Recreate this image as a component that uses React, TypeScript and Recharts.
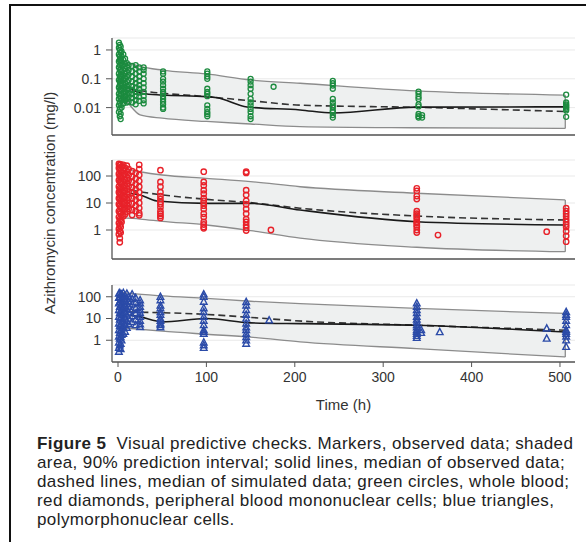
import {
  Area,
  CartesianGrid,
  ComposedChart,
  Label,
  Line,
  ReferenceLine,
  Scatter,
  XAxis,
  YAxis,
} from "recharts";

// ---- whole blood (green) ----
const wbBandT = [4, 10, 25, 50, 100, 150, 206, 338, 506];
const wbUpper = [0.45, 0.38, 0.27, 0.2, 0.147, 0.091, 0.07, 0.038, 0.027];
const wbLower = [0.025, 0.016, 0.0056, 0.0043, 0.0033, 0.0027, 0.0022, 0.002, 0.0019];
const wbObsT = [12, 28, 50, 100, 112, 146, 206, 243, 338, 506];
const wbObsMed = [0.048, 0.031, 0.0274, 0.024, 0.022, 0.0105, 0.0083, 0.0065, 0.0104, 0.0106];
const wbSimT = [12, 33, 100, 150, 206, 338, 506];
const wbSimMed = [0.045, 0.036, 0.024, 0.0173, 0.0122, 0.0102, 0.0073];
const wbPoints: [number, number[]][] = [
  [1, [1.8, 1.2, 0.7, 0.4, 0.25, 0.15, 0.09, 0.05, 0.03, 0.02, 0.012, 0.007]],
  [2, [1.5, 1.0, 0.6, 0.45, 0.3, 0.2, 0.12, 0.08, 0.06, 0.04, 0.025, 0.015, 0.009, 0.005]],
  [3, [1.3, 0.8, 0.5, 0.35, 0.22, 0.14, 0.1, 0.07, 0.045, 0.03, 0.02, 0.012, 0.006, 0.004]],
  [4, [0.9, 0.6, 0.4, 0.28, 0.18, 0.12, 0.085, 0.06, 0.04, 0.028, 0.018, 0.01]],
  [6, [0.7, 0.45, 0.3, 0.2, 0.13, 0.09, 0.065, 0.045, 0.032, 0.022, 0.014]],
  [8, [0.5, 0.32, 0.22, 0.15, 0.1, 0.07, 0.05, 0.035, 0.025, 0.018]],
  [10, [0.35, 0.25, 0.17, 0.12, 0.08, 0.055, 0.04, 0.028, 0.02, 0.015]],
  [12, [0.3, 0.2, 0.14, 0.09, 0.06, 0.045, 0.032, 0.024, 0.016]],
  [16, [0.28, 0.18, 0.12, 0.08, 0.055, 0.04, 0.03, 0.022, 0.015]],
  [20, [0.3, 0.22, 0.15, 0.1, 0.07, 0.05, 0.035, 0.025, 0.018, 0.013]],
  [24, [0.25, 0.18, 0.12, 0.085, 0.06, 0.045, 0.033, 0.024, 0.017]],
  [29, [0.25, 0.2, 0.15, 0.1, 0.07, 0.05, 0.035, 0.025, 0.018, 0.014]],
  [51, [0.18, 0.15, 0.1, 0.08, 0.06, 0.045, 0.035, 0.03, 0.025, 0.02, 0.016, 0.013, 0.01, 0.009]],
  [101, [0.18, 0.15, 0.12, 0.1, 0.045, 0.035, 0.03, 0.025, 0.012, 0.009, 0.007, 0.006, 0.005]],
  [150, [0.1, 0.08, 0.06, 0.045, 0.03, 0.02, 0.015, 0.012, 0.009, 0.007, 0.005, 0.004]],
  [176, [0.053]],
  [243, [0.085, 0.07, 0.058, 0.045, 0.02, 0.015, 0.012, 0.01, 0.008, 0.007, 0.0055, 0.0045]],
  [340, [0.036, 0.03, 0.024, 0.02, 0.013, 0.011, 0.006, 0.005, 0.0045]],
  [344, [0.0055, 0.0045]],
  [507, [0.028, 0.015, 0.013, 0.012, 0.011, 0.01, 0.009, 0.008, 0.0048]],
];

// ---- PBMC (red) ----
const pbBandT = [4, 25, 50, 100, 150, 206, 338, 506];
const pbUpper = [200, 144, 109, 82, 62, 40, 23, 13];
const pbLower = [2.8, 2.55, 2.1, 1.53, 0.95, 0.5, 0.23, 0.157];
const pbObsT = [14, 25, 44, 100, 150, 206, 338, 506];
const pbObsMed = [23, 19.8, 11.9, 9.7, 9.7, 5.5, 2.03, 1.53];
const pbSimT = [14, 25, 100, 150, 206, 338, 506];
const pbSimMed = [30, 26, 13.7, 10.3, 6.4, 3.3, 2.35];
const pbPoints: [number, number[]][] = [
  [1, [280, 200, 120, 70, 40, 25, 15, 9, 5, 3, 1.8, 1.1, 0.7]],
  [2, [250, 170, 100, 60, 35, 22, 14, 8, 4.5, 2.5, 1.5, 0.9, 0.5, 0.35]],
  [3, [270, 150, 90, 55, 32, 20, 12, 7, 4, 2.2, 1.3, 0.8]],
  [4, [220, 130, 80, 50, 30, 18, 11, 6.5, 3.5, 2]],
  [6, [260, 160, 100, 60, 38, 24, 15, 9, 5.5, 3.2]],
  [8, [200, 120, 75, 45, 28, 17, 10, 6, 3.8]],
  [10, [240, 140, 85, 52, 33, 21, 13, 8, 4.8]],
  [12, [180, 110, 68, 42, 26, 16, 10, 6]],
  [16, [150, 95, 60, 38, 24, 15, 9.5, 5.5, 3.6]],
  [20, [130, 80, 50, 32, 20, 13, 8, 5]],
  [24, [260, 180, 110, 65, 40, 25, 16, 10, 6.5, 4.2, 3.5]],
  [48, [165, 60, 40, 25, 18, 14, 11, 9, 7, 5, 4, 3.3, 2.8]],
  [97, [145, 60, 45, 30, 22, 15, 12, 10, 8, 6, 4, 3, 2, 1.6, 1.3, 1.15]],
  [145, [145, 130, 30, 20, 12, 9, 6, 4, 2.5, 2, 1.5, 1.2, 0.95]],
  [173, [1.0]],
  [338, [35, 28, 18, 14, 5, 4, 3.5, 3, 2.5, 2, 1.8, 1.5, 1.3, 1.0, 0.8]],
  [362, [0.65]],
  [485, [0.87]],
  [507, [6.4, 5, 4, 3.2, 2.5, 2, 1.6, 1.3, 0.9, 0.6, 0.37]],
];

// ---- PMN (blue) ----
const pmnBandT = [4, 14, 50, 100, 150, 206, 338, 506];
const pmnUpper = [160, 144, 110, 84, 62, 48, 29, 17];
const pmnLower = [3.8, 3.47, 2.6, 1.89, 1.4, 0.85, 0.41, 0.17];
const pmnObsT = [14, 25, 50, 100, 150, 210, 338, 506];
const pmnObsMed = [14.3, 11.9, 7.0, 10.0, 6.3, 5.8, 4.9, 2.4];
const pmnSimT = [14, 100, 150, 210, 338, 506];
const pmnSimMed = [20, 15.4, 11.2, 7.5, 4.9, 2.9];
const pmnPoints: [number, number[]][] = [
  [1, [140, 90, 50, 25, 12, 6, 3, 1.5, 0.8, 0.45, 0.3]],
  [2, [150, 100, 60, 35, 18, 9, 4.5, 2.2, 1.2, 0.6]],
  [3, [120, 70, 40, 22, 11, 5.5, 2.8, 1.4, 0.7, 0.4]],
  [4, [130, 80, 45, 26, 14, 7, 3.5, 1.8, 1.0]],
  [6, [150, 95, 55, 30, 16, 8, 4, 2]],
  [8, [110, 65, 38, 20, 10, 5, 2.5]],
  [10, [140, 85, 48, 27, 14, 7.5, 3.8]],
  [12, [100, 60, 35, 19, 10, 5.5]],
  [16, [130, 80, 45, 25, 13, 7]],
  [20, [90, 55, 30, 17, 9, 5]],
  [25, [70, 50, 35, 25, 18, 12, 8, 5.5, 4.1]],
  [48, [100, 70, 40, 30, 20, 15, 10, 8, 6, 5, 4]],
  [97, [130, 100, 60, 30, 20, 12, 8, 5, 3, 2.5, 2, 0.8, 0.6, 0.45]],
  [145, [58, 40, 25, 15, 10, 6, 4, 3, 2, 1.4, 1.0, 0.7]],
  [171, [8.3]],
  [338, [50, 35, 25, 18, 12, 9, 7, 5, 4, 3, 2.5, 2, 1.6, 1.3]],
  [343, [3, 2.2]],
  [364, [2.4]],
  [485, [3.5, 1.2]],
  [507, [20, 15, 12, 8, 5, 3, 2.5, 2, 1.5, 1, 0.5]],
];

const timeTicks = [0, 100, 200, 300, 400, 500];
const xDomain = [-6.8, 517];
const font = '"Liberation Sans", Arial, Helvetica, sans-serif';
const axisColor = "#555";

const pairs = (ts: number[], vs: number[]) => ts.map((t, i) => ({ t, v: vs[i] }));
const band = (ts: number[], lo: number[], hi: number[]) =>
  ts.map((t, i) => ({ t, range: [lo[i], hi[i]] }));
const flatten = (groups: [number, number[]][]) =>
  groups.flatMap(([t, vs]) => vs.map((v) => ({ t, v })));

const GreenDot = (p: any) => (
  <circle cx={p.cx} cy={p.cy} r={2.5} fill="none" stroke="#1c8b3f" strokeWidth={1.3} />
);
const RedDot = (p: any) => (
  <circle cx={p.cx} cy={p.cy} r={2.7} fill="none" stroke="#e8222a" strokeWidth={1.4} />
);
const BlueTri = (p: any) => (
  <path
    d={`M${p.cx},${p.cy - 3.6}L${p.cx - 3.3},${p.cy + 2.6}L${p.cx + 3.3},${p.cy + 2.6}Z`}
    fill="none"
    stroke="#2b4ba8"
    strokeWidth={1.4}
  />
);

function Panel({
  top,
  height,
  domain,
  ticks,
  bandT,
  lower,
  upper,
  obsT,
  obsMed,
  simT,
  simMed,
  points,
  shape,
  bottom,
}: any) {
  const last = bandT.length - 1;
  return (
    <div style={{ position: "absolute", left: 0, top }}>
      <ComposedChart
        width={586}
        height={height}
        margin={{ top: 6, right: 11, left: 60, bottom: bottom ? 0 : 6 }}
      >
        <CartesianGrid vertical={false} stroke="#e9e9e9" />
        <XAxis
          type="number"
          dataKey="t"
          domain={xDomain}
          allowDataOverflow
          ticks={bottom ? timeTicks : []}
          tick={bottom ? { fontSize: 14, fill: "#333", fontFamily: font } : false}
          tickLine={bottom ? { stroke: axisColor } : false}
          tickSize={5}
          tickMargin={5}
          height={bottom ? 52 : 1}
          axisLine={{ stroke: axisColor, strokeWidth: 1.3 }}
        >
          {bottom && (
            <Label
              value="Time (h)"
              position="insideBottom"
              offset={4}
              style={{ fontSize: 15, fill: "#333", fontFamily: font }}
            />
          )}
        </XAxis>
        <YAxis
          type="number"
          scale="log"
          domain={domain}
          allowDataOverflow
          ticks={ticks}
          tickFormatter={(v: number) => String(v)}
          width={52}
          tickSize={6}
          tickMargin={5}
          tick={{ fontSize: 14, fill: "#333", fontFamily: font }}
          tickLine={{ stroke: axisColor }}
          axisLine={{ stroke: axisColor, strokeWidth: 1.3 }}
        />
        <Area
          data={band(bandT, lower, upper)}
          dataKey="range"
          type="monotone"
          fill="#eef0f0"
          fillOpacity={1}
          stroke="#8c8c8c"
          strokeWidth={1.3}
          isAnimationActive={false}
          dot={false}
          activeDot={false}
        />
        <ReferenceLine
          segment={[
            { x: bandT[last], y: lower[last] },
            { x: bandT[last], y: upper[last] },
          ]}
          stroke="#8c8c8c"
          strokeWidth={1.3}
        />
        <Scatter data={flatten(points)} dataKey="v" shape={shape} isAnimationActive={false} />
        <Line
          data={pairs(simT, simMed)}
          dataKey="v"
          type="monotone"
          stroke="#333"
          strokeWidth={1.6}
          strokeDasharray="7 4"
          dot={false}
          activeDot={false}
          isAnimationActive={false}
        />
        <Line
          data={pairs(obsT, obsMed)}
          dataKey="v"
          type="monotone"
          stroke="#1a1a1a"
          strokeWidth={1.6}
          dot={false}
          activeDot={false}
          isAnimationActive={false}
        />
      </ComposedChart>
    </div>
  );
}

export default function App() {
  return (
    <div
      style={{
        position: "absolute",
        left: 0,
        top: 0,
        width: 586,
        height: 542,
        background: "#fff",
        overflow: "hidden",
        fontFamily: font,
      }}
    >
      <div
        style={{
          position: "absolute",
          left: 9,
          top: 4,
          width: 600,
          height: 560,
          borderLeft: "2px solid #111",
          borderTop: "2px solid #111",
        }}
      />
      <Panel
        top={32}
        height={110}
        domain={[0.00112, 2.6]}
        ticks={[0.01, 0.1, 1]}
        bandT={wbBandT}
        lower={wbLower}
        upper={wbUpper}
        obsT={wbObsT}
        obsMed={wbObsMed}
        simT={wbSimT}
        simMed={wbSimMed}
        points={wbPoints}
        shape={GreenDot}
      />
      <Panel
        top={154}
        height={112}
        domain={[0.0843, 392]}
        ticks={[1, 10, 100]}
        bandT={pbBandT}
        lower={pbLower}
        upper={pbUpper}
        obsT={pbObsT}
        obsMed={pbObsMed}
        simT={pbSimT}
        simMed={pbSimMed}
        points={pbPoints}
        shape={RedDot}
      />
      <Panel
        top={279}
        height={135}
        domain={[0.1, 347]}
        ticks={[1, 10, 100]}
        bandT={pmnBandT}
        lower={pmnLower}
        upper={pmnUpper}
        obsT={pmnObsT}
        obsMed={pmnObsMed}
        simT={pmnSimT}
        simMed={pmnSimMed}
        points={pmnPoints}
        shape={BlueTri}
        bottom
      />
      <div
        style={{
          position: "absolute",
          left: 50 - 140,
          top: 203 - 10,
          width: 280,
          height: 20,
          lineHeight: "20px",
          textAlign: "center",
          fontSize: 15,
          color: "#333",
          transform: "rotate(-90deg)",
          whiteSpace: "nowrap",
        }}
      >
        Azithromycin concentration (mg/l)
      </div>
      <div
        style={{
          position: "absolute",
          left: 37,
          top: 434,
          fontSize: 17,
          letterSpacing: 0.4,
          lineHeight: "19px",
          color: "#222",
          whiteSpace: "nowrap",
        }}
      >
        <b>Figure 5</b>&nbsp; Visual predictive checks. Markers, observed data; shaded
        <br />
        area, 90% prediction interval; solid lines, median of observed data;
        <br />
        dashed lines, median of simulated data; green circles, whole blood;
        <br />
        red diamonds, peripheral blood mononuclear cells; blue triangles,
        <br />
        polymorphonuclear cells.
      </div>
    </div>
  );
}
